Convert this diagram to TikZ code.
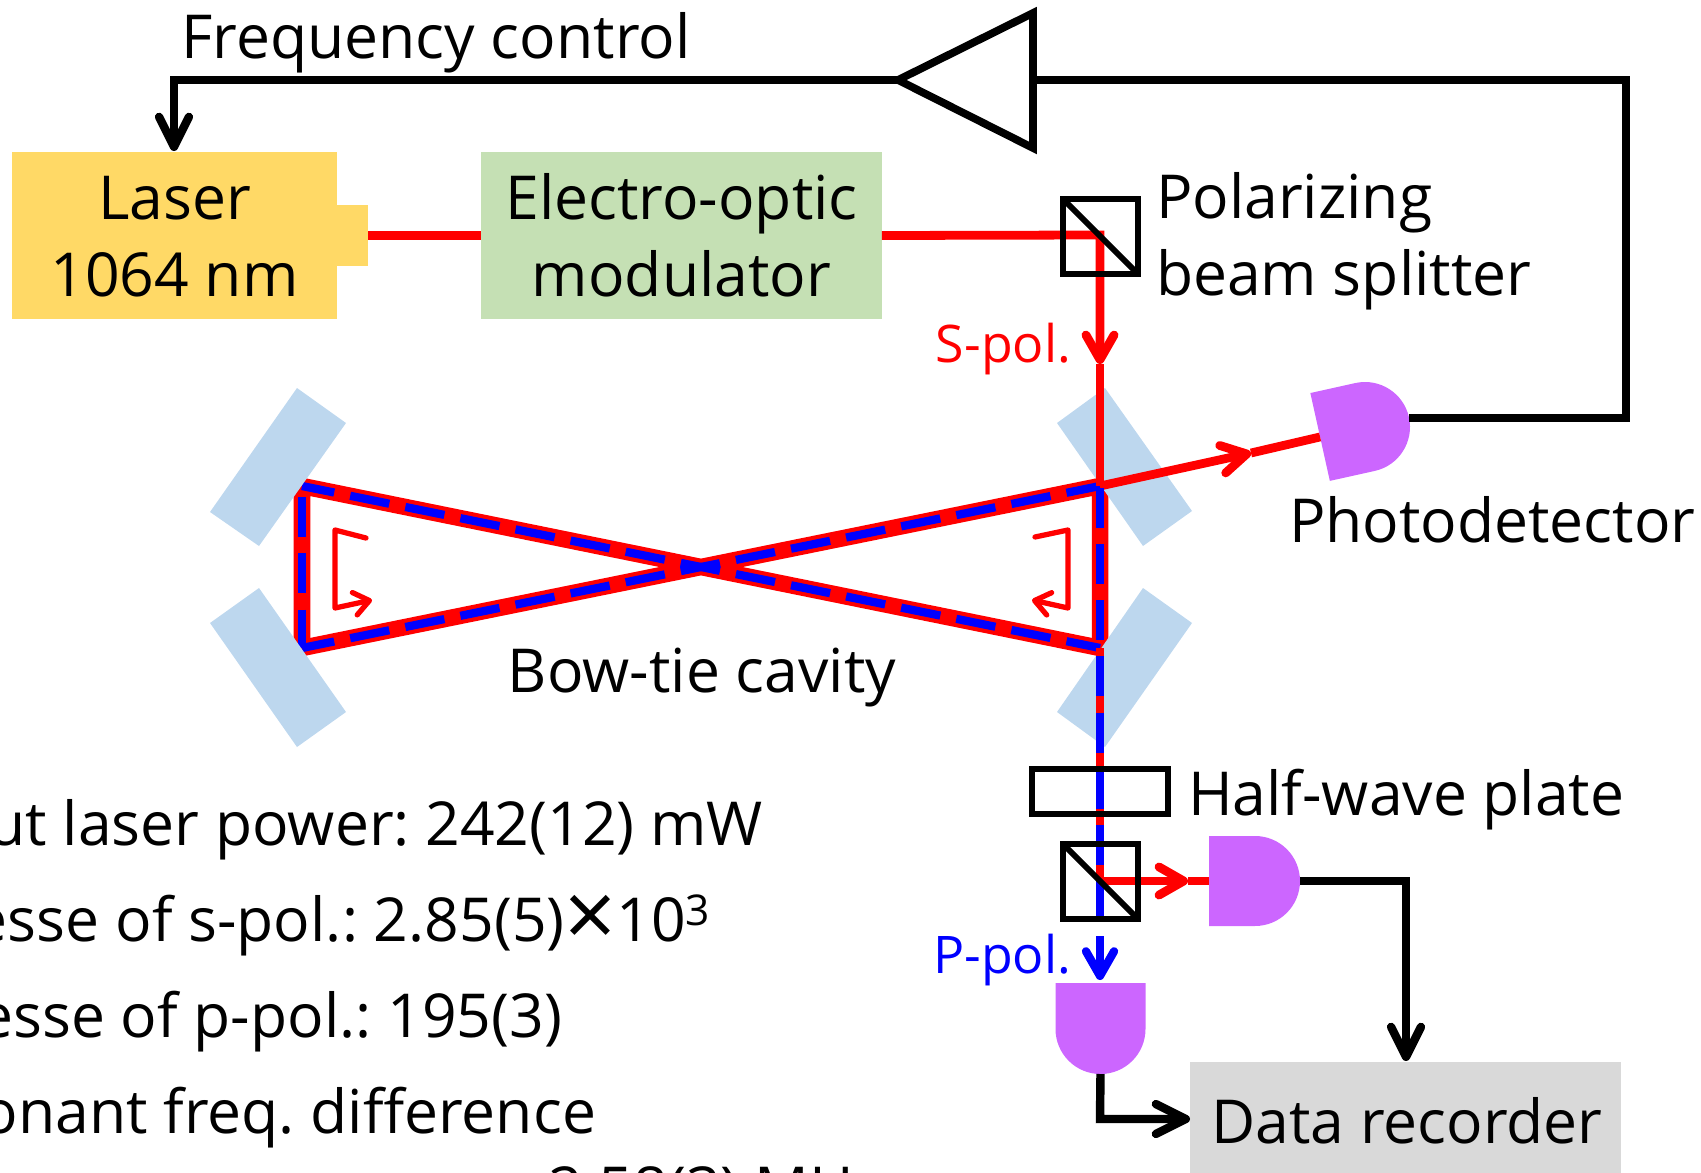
\documentclass[tikz,border=0pt]{standalone}
\usepackage{fontspec}
\setmainfont{Open Sans}
\usetikzlibrary{arrows.meta,positioning,calc}
\definecolor{lasercol}{HTML}{FFD966}
\definecolor{eomcol}{HTML}{C5E0B4}
\definecolor{mirrorcol}{HTML}{BDD7EE}
\definecolor{recordercol}{HTML}{D9D9D9}
\definecolor{detectorcol}{HTML}{CC66FF}
\tikzset{
  bigtext/.style={font=\fontsize{34.5}{43.6}\selectfont\frenchspacing, inner sep=0pt, outer sep=0pt},
  smalltext/.style={font=\fontsize{29.5}{34}\selectfont\frenchspacing, inner sep=0pt, outer sep=0pt},
  colorbox/.style={bigtext, align=center},
  opticbox/.style={draw, line width=3.4pt, inner sep=0pt, outer sep=0pt},
  mirror/.style={fill=mirrorcol},
  signal/.style={line width=4.8pt, miter limit=10},
  redbeam/.style={red, line width=5pt},
  bluebeam/.style={blue, line width=4.7pt},
  cavitybeam/.style={red, line width=9.4pt},
  bluedash/.style={bluebeam, dash pattern=on 22.7pt off 9.3pt},
  turn/.style={red, line width=3pt, line cap=round, line join=round, -{Straight Barb[round,length=8.5pt,width=13pt]}},
  signalhead/.style={-{Straight Barb[round,length=17pt,width=17pt]}},
  beamhead/.style={-{Straight Barb[round,length=14pt,width=16pt]}},
  detector/.pic={
    \fill[detectorcol] (-46,-45) -- (0,-45) arc (-90:90:45) -- (-46,45) -- cycle;
    \coordinate (-base) at (-46,0);
    \coordinate (-tip) at (45,0);
  }
}

\begin{document}
\begin{tikzpicture}[x=0.02cm, y=0.02cm]
      \useasboundingbox (0,0) rectangle (1701,-1173);
      \clip (0,0) rectangle (1701,-1173);

      \coordinate (ul) at (302,-486);
      \coordinate (ur) at (1100,-486);
      \coordinate (ll) at (302,-648);
      \coordinate (lr) at (1100,-648);
      \coordinate (splitin) at (1100,-235);
      \coordinate (headin) at (1100,-364);
      \coordinate (headpd) at (1251,-453);
      \coordinate (splitout) at (1100,-881);
      \coordinate (headright) at (1188,-881);
      \coordinate (blueend) at (1100,-916);
      \coordinate (bluestart) at (1100,-936);
      \coordinate (bluehead) at (1100,-980);

      % cavity first, the mirrors hide its corners
      \draw [cavitybeam] (ul) -- (lr) -- (ur) -- (ll) -- cycle;
      \draw [bluedash, dash phase=4pt] (ul) -- (lr);
      \draw [bluedash, dash phase=4pt] (ll) -- (ur);
      \draw [bluedash, dash phase=25.7pt] (ul) -- (ll);

      % mirrors
      \fill[mirror] (1105,-388) -- (1192,-511) -- (1143,-546) -- (1057,-423) -- cycle;
      \fill[mirror] (1143,-588) -- (1192,-623) -- (1105,-747) -- (1057,-712) -- cycle;
      \fill[mirror] (297,-388) -- (346,-423) -- (259,-546) -- (210,-512) -- cycle;
      \fill[mirror] (259,-588) -- (210,-623) -- (297,-747) -- (346,-712) -- cycle;

      \node (laser) [colorbox, fill=lasercol, minimum width=6.5cm, minimum height=3.34cm] at (174.5,-235.5) {\rule{0pt}{26pt}Laser\\1064 nm};
      \node (lasertab) [fill=lasercol, inner sep=0pt, outer sep=0pt, minimum width=0.64cm, minimum height=1.22cm] at (352,-235.5) {};
      \node (eom) [colorbox, fill=eomcol, minimum width=8.02cm, minimum height=3.34cm] at (681.5,-235.5) {\rule{0pt}{26pt}Electro-optic\\modulator};
      \node (recorder) [fill=recordercol, inner sep=0pt, outer sep=0pt, minimum width=8.62cm, minimum height=2.4cm, anchor=north west] at (1190,-1062) {};
      \node (recordertext) [bigtext, anchor=base] at (1407,-1143) {Data recorder};

      \pic (pdtop) [rotate=12.5] at (1365,-427) {detector};
      \pic (pdright) at (1255,-881) {detector};
      \pic (pdbottom) [rotate=-90] at (1100.5,-1029) {detector};

      % beams
      \draw [redbeam] (lasertab.east) -- (eom.west);
      \draw [redbeam, beamhead] (eom.east) -- (splitin) -- (headin);
      \draw [redbeam] (headin) -- (ur);
      \draw [redbeam, beamhead] (ur) -- (headpd);
      \draw [redbeam] (headpd) -- (pdtop-base);
      \draw [redbeam] (lr) -- (splitout);
      \draw [redbeam, beamhead] (splitout) -- (headright);
      \draw [redbeam] (headright) -- (pdright-base);
      \draw [bluedash, dash phase=31pt] (ur) -- (blueend);
      \draw [bluebeam, beamhead] (bluestart) -- (bluehead);

      % optics on top of the beams
      \node (pbstop) [opticbox, minimum size=1.5cm] at (1100.5,-236.5) {};
      \draw [line width=3.4pt] (pbstop.north west) -- (pbstop.south east);
      \node (plate) [opticbox, minimum width=2.72cm, minimum height=0.9cm] at (1100,-791.5) {};
      \node (pbsbottom) [opticbox, minimum size=1.5cm] at (1100.5,-881.5) {};
      \draw [line width=3.4pt] (pbsbottom.north west) -- (pbsbottom.south east);

      % rotation marks
      \draw [turn] (366,-538) -- (335,-530) -- (335,-608) -- (372,-600);
      \draw [turn] (1035,-537) -- (1068,-530) -- (1068,-608) -- (1032,-600);

      % feedback and signals
      \coordinate (ampin) at (1033,-80);
      \coordinate (amptip) at (898,-80);
      \coordinate (corner) at (1626,-80);
      \draw [line width=4.4pt, miter limit=10] (ampin) -- (1033,-13) -- (amptip) -- (1033,-148) -- cycle;
      \draw [signal] (pdtop-tip |- 0,-418) -- (1626,-418) -- (corner) -- (ampin);
      \draw [signal, signalhead] (amptip) -- (174,-80) -- (174,-151);
      \draw [signal, signalhead] (pdright-tip) -- (1406,-881) -- (1406,-1061);
      \draw [signal, signalhead] (pdbottom-tip) -- (1100,-1119) -- (1190,-1119);

      % labels
      \node (freqlabel) [bigtext, anchor=base] at (436,-58) {Frequency control};
      \node (pbslabel) [bigtext, anchor=base west] at (1156,-218) {Polarizing};
      \node (pbslabelb) [bigtext, anchor=base west] at (1156,-295) {beam splitter};
      \node (spol) [smalltext, red, anchor=base east] at (1071,-362) {S-pol.};
      \node (ppol) [smalltext, blue, anchor=base east] at (1071,-973) {P-pol.};
      \node (pdlabel) [bigtext, anchor=base west] at (1289,-542) {Photodetector};
      \node (cavitylabel) [bigtext, anchor=base] at (702,-692) {Bow-tie cavity};
      \node (platelabel) [bigtext, anchor=base west] at (1188,-815) {Half-wave plate};
      \node (powerlabel) [bigtext, anchor=base east] at (763,-845) {Input laser power: 242(12) mW};
      \node (finesses) [bigtext, anchor=base east] at (711,-941) {Finesse of s-pol.: 2.85(5)\raisebox{-0.1em}{\scalebox{1.5}{×}}10\textsuperscript{3}};
      \node (finessep) [bigtext, anchor=base east] at (562,-1037) {Finesse of p-pol.: 195(3)};
      \node (freqdiff) [bigtext, anchor=base east] at (596,-1133) {Resonant freq. difference};
      \node (freqvalue) [bigtext, anchor=base west] at (548,-1210) {2.58(3) MHz};
\end{tikzpicture}
\end{document}
